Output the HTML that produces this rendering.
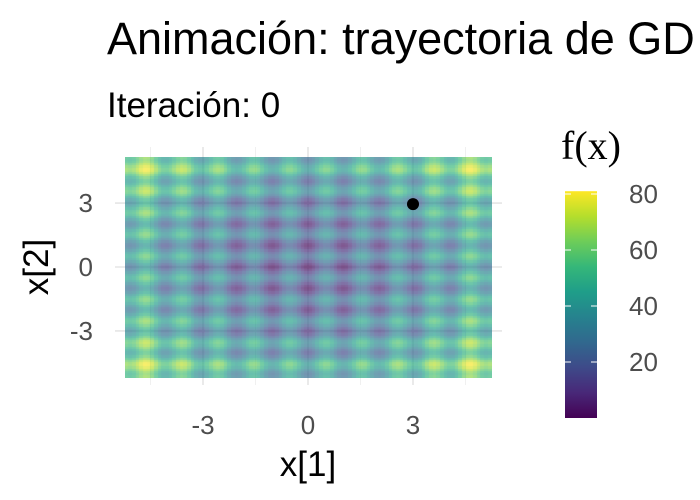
<!DOCTYPE html>
<html><head><meta charset="utf-8"><style>
body{margin:0;background:#fff;font-family:"Liberation Sans",sans-serif}
#wrap{position:relative;width:700px;height:500px;overflow:hidden}
</style></head><body>
<div id="wrap">
<svg id="svg" width="700" height="500" style="position:absolute;left:0;top:0">
<text x="107" y="54" font-size="45" fill="#000">Animación: trayectoria de GD</text>
<text x="107" y="117" font-size="35" fill="#000">Iteración: 0</text>
</svg>
<canvas id="cv" width="367" height="221" style="position:absolute;left:125px;top:157px;opacity:0.68"></canvas>
<svg id="svg2" width="700" height="500" style="position:absolute;left:0;top:0"></svg>
</div>
<script>
const xTicks=[-3,0,3];
const yTicks=[-3,0,3];
const legendTicks=[20,40,60,80];
const pointX=[3.0];
const pointY=[2.95];
const gridN=[100];
const domain=[-5.12,5.12];
const fMin=0, fMax=81;
const gridVals=[];
for(let j=0;j<gridN[0];j++){const row=[];for(let i=0;i<gridN[0];i++){
 const x=domain[0]+(i+0.5)*(domain[1]-domain[0])/gridN[0], y=domain[1]-(j+0.5)*(domain[1]-domain[0])/gridN[0];
 row.push(20+x*x-10*Math.cos(2*Math.PI*x)+y*y-10*Math.cos(2*Math.PI*y));}gridVals.push(row);}

const sx=v=>308+v*35, sy=v=>267-v*21.3;
const vir=[[68,1,84],[72,40,120],[62,74,137],[49,104,142],[38,130,142],[31,158,137],[53,183,121],[109,205,89],[180,222,44],[253,231,37]];
function col(t){t=Math.max(0,Math.min(1,t))*9;const i=Math.min(8,Math.floor(t)),f=t-i,a=vir[i],b=vir[i+1];return `rgb(${a.map((c,k)=>Math.round(c+(b[k]-c)*f)).join(',')})`;}
const NS='http://www.w3.org/2000/svg';
function mk(p,tag,at){const e=document.createElementNS(NS,tag);for(const k in at)e.setAttribute(k,at[k]);p.appendChild(e);return e;}
const svg=document.getElementById('svg'),svg2=document.getElementById('svg2');
[-4.5,-1.5,1.5,4.5].forEach(v=>{const l=mk(svg,'line',{x1:sx(v),x2:sx(v),y1:147,y2:385,stroke:'#f0f0f0','stroke-width':1});
});
xTicks.forEach(v=>{const l=mk(svg,'line',{x1:sx(v),x2:sx(v),y1:147,y2:385,stroke:'#e5e5e5','stroke-width':1.6});

const t=mk(svg,'text',{x:sx(v),y:434,'text-anchor':'middle','font-size':26,fill:'#4d4d4d'});t.textContent=v;
});
yTicks.forEach(v=>{const l=mk(svg,'line',{x1:115,x2:502,y1:sy(v),y2:sy(v),stroke:'#e5e5e5','stroke-width':1.6});

const t=mk(svg,'text',{x:93,y:sy(v)+9,'text-anchor':'end','font-size':26,fill:'#4d4d4d'});t.textContent=v;
});
const cv=document.getElementById('cv'),ctx=cv.getContext('2d');
const cw=cv.width/gridN[0],ch=cv.height/gridN[0];
gridVals.forEach((row,j)=>row.forEach((v,i)=>{ctx.fillStyle=col((v-fMin)/(fMax-fMin));ctx.fillRect(Math.floor(i*cw),Math.floor(j*ch),Math.ceil(cw)+1,Math.ceil(ch)+1);}));
pointX.forEach((px,k)=>{const c=mk(svg2,'circle',{cx:sx(px),cy:sy(pointY[k]),r:6,fill:'#000'});
});
let t=mk(svg2,'text',{x:308,y:476,'text-anchor':'middle','font-size':35,fill:'#000'});t.textContent='x[1]';

t=mk(svg2,'text',{x:0,y:0,'text-anchor':'middle','font-size':35,fill:'#000',transform:'translate(48,267) rotate(-90)'});t.textContent='x[2]';

const defs=mk(svg2,'defs',{});const g=mk(defs,'linearGradient',{id:'lg',x1:0,y1:1,x2:0,y2:0});
vir.forEach((c,i)=>mk(g,'stop',{offset:i/9,'stop-color':`rgb(${c.join(',')})`}));
const ly=v=>418-v*2.8;
const r=mk(svg2,'rect',{x:565,y:ly(fMax),width:32,height:ly(fMin)-ly(fMax),fill:'url(#lg)'});

legendTicks.forEach(v=>{mk(svg2,'line',{x1:565,x2:571,y1:ly(v),y2:ly(v),stroke:'#fff','stroke-width':1});mk(svg2,'line',{x1:591,x2:597,y1:ly(v),y2:ly(v),stroke:'#fff','stroke-width':1});
const tt=mk(svg2,'text',{x:629,y:ly(v)+9,'font-size':26,fill:'#4d4d4d'});tt.textContent=v;
});
t=mk(svg2,'text',{x:561,y:159,'font-size':40,fill:'#000','font-family':'Liberation Serif'});t.textContent='f(x)';

</script>
</body></html>
